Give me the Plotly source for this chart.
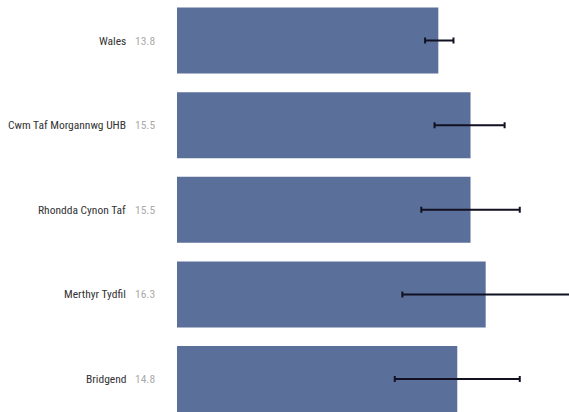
import plotly.graph_objects as go

areas = ["Wales", "Cwm Taf Morgannwg UHB", "Rhondda Cynon Taf", "Merthyr Tydfil", "Bridgend"]
values = [13.8, 15.5, 15.5, 16.3, 14.8]
ci_lower = [13.1, 13.6, 12.9, 11.9, 11.5]
ci_upper = [14.6, 17.3, 18.1, 21.5, 18.1]

err_plus = [u - v for u, v in zip(ci_upper, values)]
err_minus = [v - l for v, l in zip(values, ci_lower)]

FONT = "Roboto Condensed"

fig = go.Figure()
fig.add_trace(go.Bar(
    y=areas, x=values, orientation="h",
    marker=dict(color="#5B6F9B", line=dict(width=0)),
    error_x=dict(type="data", symmetric=False, array=err_plus, arrayminus=err_minus,
                 color="#111122", thickness=2, width=3),
    hoverinfo="skip",
))

for a, v in zip(areas, values):
    fig.add_annotation(x=-0.125, xref="paper", y=a, yref="y", text=a, showarrow=False,
                       xanchor="right", yanchor="middle",
                       font=dict(family=FONT, size=11.5, color="#333333"))
    fig.add_annotation(x=-0.051, xref="paper", y=a, yref="y", text=f"{v:.1f}", showarrow=False,
                       xanchor="right", yanchor="middle",
                       font=dict(family=FONT, size=11.5, color="#aaaaaa"))

fig.update_layout(
    width=569, height=412,
    margin=dict(l=177, r=0, t=0, b=0),
    paper_bgcolor="white", plot_bgcolor="white",
    bargap=0.22,
    showlegend=False,
    xaxis=dict(range=[0, 20.7], visible=False, fixedrange=True),
    yaxis=dict(type="category", categoryorder="array", categoryarray=areas,
               range=[4.39, -0.479], visible=False, fixedrange=True),
)

fig.write_html("out.html", config={"displayModeBar": False})
